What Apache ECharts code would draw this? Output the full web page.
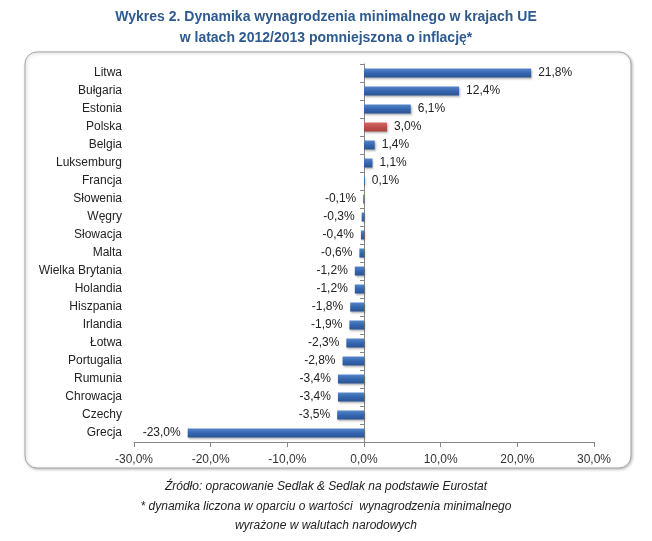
<!DOCTYPE html>
<html>
<head>
<meta charset="utf-8">
<script src="https://cdn.jsdelivr.net/npm/echarts@6/dist/echarts.min.js"></script>
<style>
html,body{margin:0;padding:0;background:#fff;}
#main{width:652px;height:541px;}
</style>
</head>
<body>
<div id="main"></div>
<script>
// dane
var kraje = ['Litwa','Bułgaria','Estonia','Polska','Belgia','Luksemburg','Francja','Słowenia','Węgry','Słowacja','Malta','Wielka Brytania','Holandia','Hiszpania','Irlandia','Łotwa','Portugalia','Rumunia','Chrowacja','Czechy','Grecja'];
var dynamika = [21.8,12.4,6.1,3.0,1.4,1.1,0.1,-0.1,-0.3,-0.4,-0.6,-1.2,-1.2,-1.8,-1.9,-2.3,-2.8,-3.4,-3.4,-3.5,-23.0];
var wyroznione = 'Polska';

var myChart = echarts.init(document.getElementById('main'));

function proc(v){
    return v.toFixed(1).replace('.', ',') + '%';
}

var niebieski = new echarts.graphic.LinearGradient(0,0,0,1,[
    {offset:0,color:'#5585c8'},
    {offset:0.5,color:'#3566b0'},
    {offset:1,color:'#2a5596'}
]);
var czerwony = new echarts.graphic.LinearGradient(0,0,0,1,[
    {offset:0,color:'#d46663'},
    {offset:0.5,color:'#c0504d'},
    {offset:1,color:'#a8403d'}
]);

var dane = [];
for(var i=0;i<kraje.length;i++){
    dane.push({
        value: dynamika[i],
        itemStyle:{color: kraje[i]===wyroznione ? czerwony : niebieski},
        label:{position: dynamika[i] < 0 ? 'left' : 'right'}
    });
}

var option = {
    backgroundColor:'#fff',
    textStyle:{fontFamily:'Liberation Sans'},
    graphic:[
        {
            type:'rect',
            shape:{x:25,y:52,width:606,height:416,r:12},
            style:{fill:'#fff',stroke:'#a6a6a6',lineWidth:1,
                shadowBlur:3,shadowColor:'rgba(0,0,0,0.25)',shadowOffsetX:1,shadowOffsetY:1},
            z:-10
        },
        {
            type:'text',left:'center',top:10,
            style:{text:'Wykres 2. Dynamika wynagrodzenia minimalnego w krajach UE',
                fill:'#2e5a8e',font:'bold 14px "Liberation Sans"'}
        },
        {
            type:'text',left:'center',top:31,
            style:{text:'w latach 2012/2013 pomniejszona o inflację*',
                fill:'#2e5a8e',font:'bold 14px "Liberation Sans"'}
        },
        {
            type:'text',left:'center',top:481,
            style:{text:'Źródło: opracowanie Sedlak & Sedlak na podstawie Eurostat',
                fill:'#222',font:'italic 12px "Liberation Sans"'}
        },
        {
            type:'text',left:'center',top:501,
            style:{text:'* dynamika liczona w oparciu o wartości  wynagrodzenia minimalnego',
                fill:'#222',font:'italic 12px "Liberation Sans"'}
        },
        {
            type:'text',left:'center',top:520,
            style:{text:'wyrażone w walutach narodowych',
                fill:'#222',font:'italic 12px "Liberation Sans"'}
        }
    ],
    grid:{
        left:134,
        right:58,
        top:64,
        bottom:99
    },
    xAxis:{
        type:'value',
        min:-30,
        max:30,
        interval:10,
        splitLine:{show:false},
        axisLine:{show:true,onZero:false,lineStyle:{color:'#868686'}},
        axisTick:{show:true,length:5,lineStyle:{color:'#868686'}},
        axisLabel:{color:'#333',fontSize:12,margin:12,formatter:function(v){return proc(v);}}
    },
    yAxis:[
        {
            // podpisy krajów po lewej
            type:'category',
            data:kraje,
            inverse:true,
            position:'left',
            axisLine:{show:false,onZero:false},
            axisTick:{show:false},
            axisLabel:{color:'#222',fontSize:12,margin:12}
        },
        {
            // oś przy zerze
            type:'category',
            data:kraje,
            inverse:true,
            position:'left',
            axisLine:{show:true,onZero:true,lineStyle:{color:'#868686'}},
            axisTick:{show:true,length:4,inside:false,lineStyle:{color:'#868686'}},
            axisLabel:{show:false}
        }
    ],
    series:[{
        type:'bar',
        yAxisIndex:0,
        barWidth:9,
        data:dane,
        itemStyle:{shadowBlur:2,shadowColor:'rgba(0,0,0,0.3)',shadowOffsetX:1,shadowOffsetY:1},
        label:{
            show:true,
            color:'#222',
            fontSize:12,
            distance:7,
            formatter:function(p){return proc(p.value);}
        }
    }]
};
myChart.setOption(option);
</script>
</body>
</html>
